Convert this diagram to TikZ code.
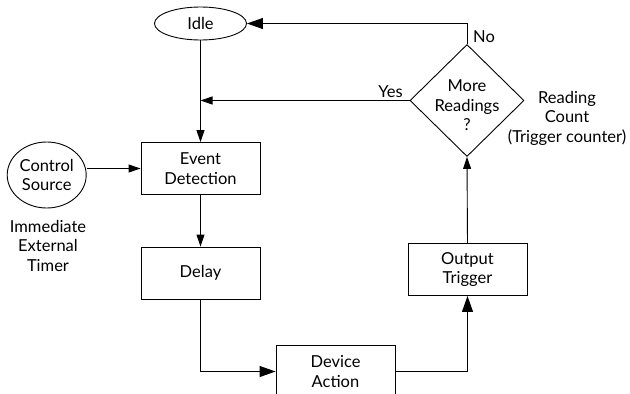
\documentclass[tikz,border=0pt]{standalone}
\usepackage{fontspec}
\setmainfont{Lato}
\usepackage{tikz}
\usetikzlibrary{positioning,shapes,arrows.meta,calc}
\tikzset{box node/.style={rectangle,draw,minimum width=119pt,minimum height=52pt,align=center,inner sep=0pt},
	oval node/.style={ellipse,draw,inner sep=0pt,align=center},
	txt node/.style={align=center,inner sep=0pt},
	arr/.style={-{Triangle[length=12pt,width=8pt]}},
	big arr/.style={-{Triangle[length=16pt,width=11pt]}},
}

\begin{document}
\begin{tikzpicture}[x=1pt,y=-1pt,line width=0.9pt,font=\fontsize{16.5}{19.5}\selectfont]
		\useasboundingbox (0,0) rectangle (630,394);
		\node[oval node,minimum width=92pt,minimum height=33pt] (idle) at (200.5,23.5) {Idle};
		\node[box node] (ev) at (200.5,168.5) {Event\\Detection};
		\node[oval node,minimum width=79pt,minimum height=66pt] (src) at (46.7,175) {Control\\Source};
		\node[txt node] (srclbl) at (48,245.5) {Immediate\\External\\Timer};
		\node[box node] (delay) at (200.5,273) {Delay};
		\node[box node] (dev) at (335.5,371.5) {Device\\Action};
		\node[box node] (out) at (467.5,269.5) {Output\\Trigger};
		\node[diamond,draw,minimum width=114pt,minimum height=112pt,inner sep=0pt,
			label={[txt node,yshift=-5pt]center:{More\\Readings\\?}}] (more) at (467,100.5) {};
		\node[txt node] (no) at (484,37) {No};
		\node[txt node] (yes) at (390.5,92) {Yes};
		\node[txt node] (cnt) at (567,118) {Reading\\Count\\(Trigger counter)};
		
		\draw[big arr] (more.north) |- (idle.east);
		\draw[arr] (more.west) -- (idle.south |- more.west);
		\draw[arr] (idle.south) -- (ev.north);
		\draw[arr] (src.east |- ev) -- (ev.west);
		\draw[arr] (ev.south) -- (delay.north);
		\draw[big arr] (delay.south) |- (dev.west);
		\draw[big arr] (dev.east) -| (out.south);
		\draw[arr] (out.north) -- (more.south);
		\end{tikzpicture}
\end{document}
